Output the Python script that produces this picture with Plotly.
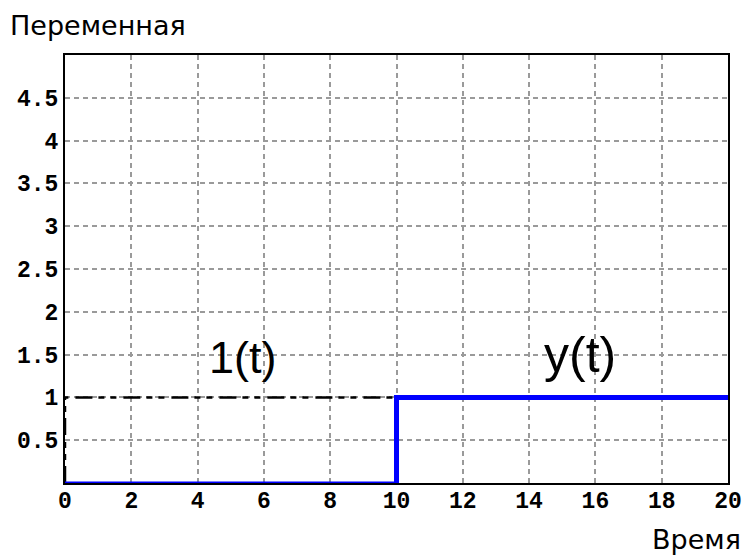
import plotly.graph_objects as go

# data
step_t = [0, 0, 20]
step_v = [0, 1, 1]
y_low_t = [0, 10]
y_low_v = [0, 0]
y_high_t = [10, 10, 20]
y_high_v = [0, 1, 1]
x_ticks = [0, 2, 4, 6, 8, 10, 12, 14, 16, 18, 20]
y_ticks = [0.5, 1, 1.5, 2, 2.5, 3, 3.5, 4, 4.5]
y_tick_text = ["0.5", "1", "1.5", "2", "2.5", "3", "3.5", "4", "4.5"]

fig = go.Figure()
fig.add_trace(go.Scatter(x=step_t, y=step_v, mode="lines",
                         line=dict(color="black", width=2.5, dash="17px,6px,6px,6px,6px,7px"),
                         showlegend=False))
fig.add_trace(go.Scatter(x=y_low_t, y=y_low_v, mode="lines",
                         line=dict(color="#0000ff", width=3),
                         showlegend=False))
fig.add_trace(go.Scatter(x=y_high_t, y=y_high_v, mode="lines",
                         line=dict(color="#0000ff", width=5),
                         showlegend=False))

tickfont = dict(family="Liberation Mono, Courier New, monospace", size=23, color="black",
                weight="bold")
fig.update_xaxes(range=[0, 20], tickvals=x_ticks, tickfont=tickfont,
                 showgrid=True, gridcolor="#9a9a9a", griddash="5px,4px", gridwidth=1.5,
                 showline=True, linecolor="black", linewidth=2, mirror=True,
                 zeroline=False, ticks="", ticklabelstandoff=-5,
                 ticklabeloverflow="allow")
fig.update_yaxes(range=[0, 5], tickvals=y_ticks, ticktext=y_tick_text, tickfont=tickfont,
                 showgrid=True, gridcolor="#9a9a9a", griddash="5px,4px", gridwidth=1.5,
                 showline=True, linecolor="black", linewidth=2, mirror=True,
                 zeroline=False, ticks="")

fig.add_annotation(x=5.38, y=1.47, text="1(t)", showarrow=False,
                   font=dict(family="Liberation Sans, Arial", size=45, color="black"))
fig.add_annotation(x=15.53, y=1.5, text="y(t)", showarrow=False,
                   font=dict(family="Liberation Sans, Arial", size=50, color="black"))
fig.add_annotation(xref="paper", yref="paper", x=-0.0857, y=1.0678, xanchor="left", yanchor="middle",
                   text="Переменная", showarrow=False,
                   font=dict(family="DejaVu Sans, Liberation Sans", size=27, color="black"))
fig.add_annotation(xref="paper", yref="paper", x=1.022, y=-0.133, xanchor="right", yanchor="middle",
                   text="Время", showarrow=False,
                   font=dict(family="DejaVu Sans, Liberation Sans", size=27, color="black"))

fig.update_layout(width=748, height=555, margin=dict(l=65, r=6, t=55, b=72),
                  plot_bgcolor="white", paper_bgcolor="white")
fig.write_html("out.html", config={"displayModeBar": False},
               post_script="document.body.style.margin='0';document.body.style.overflow='hidden';")
